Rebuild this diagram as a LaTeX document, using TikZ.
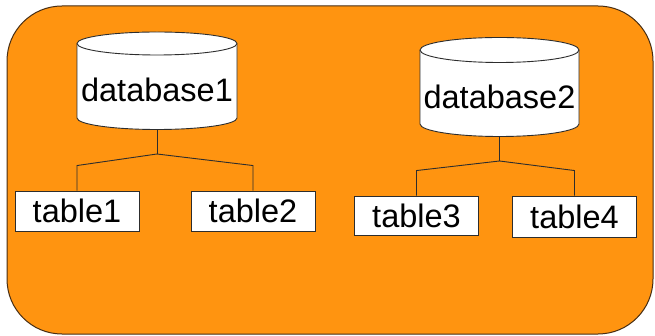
\documentclass[tikz,border=0pt]{standalone}
\usepackage{fontspec}
\setmainfont{Liberation Sans}
\usetikzlibrary{calc}
\definecolor{panelorange}{RGB}{255,148,16}
\definecolor{paneledge}{RGB}{70,45,20}
\definecolor{edgegray}{RGB}{45,45,45}
\begin{document}
\begin{tikzpicture}[x=1pt,y=-1pt,
  lbl/.style={font=\fontsize{32.5}{39}\selectfont, text=black, inner sep=0pt},
  tablebox/.style={lbl, draw=edgegray, line width=0.9pt, fill=white,
    minimum width=124pt, minimum height=40pt},
  link/.style={draw=edgegray, line width=0.9pt},
  cyl/.style={draw=edgegray, line width=0.9pt, fill=white}]
\useasboundingbox (0,0) rectangle (655,336);
% orange panel
\draw[fill=panelorange, draw=paneledge, line width=1pt, rounded corners=55pt]
  (7,6) rectangle (653,334);

% database 1 cylinder
\path[cyl] (77,43.5) -- (77,118)
  arc[start angle=180, end angle=0, x radius=80, y radius=11.5]
  -- (237,43.5)
  arc[start angle=0, end angle=-180, x radius=80, y radius=11.5] -- cycle;
\draw[link] (77,43.5) arc[start angle=180, end angle=0, x radius=80, y radius=11.5];
\node[lbl] (db1) at (157,90) {database1};
\coordinate (db1bot) at (157,129.5);

% database 2 cylinder
\path[cyl] (420,50) -- (420,124)
  arc[start angle=180, end angle=0, x radius=79.5, y radius=12.5]
  -- (579,50)
  arc[start angle=0, end angle=-180, x radius=79.5, y radius=12.5] -- cycle;
\draw[link] (420,50) arc[start angle=180, end angle=0, x radius=79.5, y radius=12.5];
\node[lbl] (db2) at (499.5,97) {database2};
\coordinate (db2bot) at (499.5,136.5);

% tables
\node[tablebox] (t1) at (77,211) {table1};
\node[tablebox] (t2) at (253,211) {table2};
\node[tablebox, minimum height=39pt] (t3) at (416.5,215.5) {table3};
\node[tablebox, minimum height=41pt] (t4) at (574.5,216.5) {table4};

% tree connectors
\coordinate (j1) at (157,154);
\coordinate (j2) at (499.5,161);
\draw[link] (db1bot) -- (j1);
\draw[link] (j1) -- ($(t1.north)+(0,-25)$) -- (t1.north);
\draw[link] (j1) -- ($(t2.north)+(0,-25)$) -- (t2.north);
\draw[link] (db2bot) -- (j2);
\draw[link] (j2) -- ($(t3.north)+(0,-25)$) -- (t3.north);
\draw[link] (j2) -- ($(t4.north)+(0,-25)$) -- (t4.north);
\end{tikzpicture}
\end{document}
